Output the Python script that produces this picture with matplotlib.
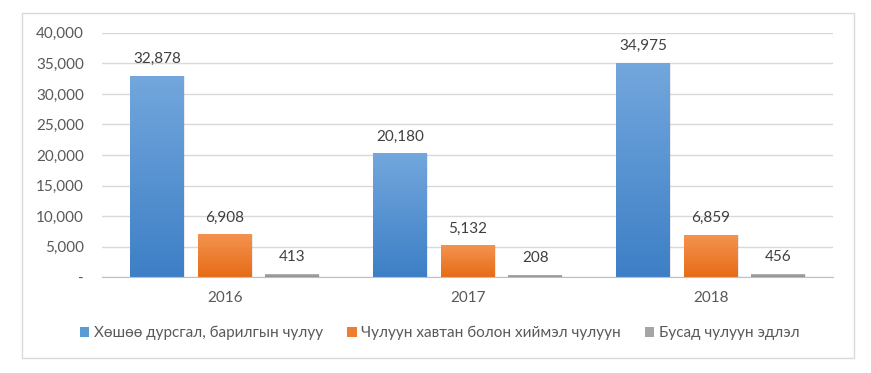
import numpy as np
import matplotlib
matplotlib.use('Agg')
import matplotlib.pyplot as plt
from matplotlib.colors import LinearSegmentedColormap
from matplotlib.patches import Rectangle

plt.rcParams['font.family'] = ['Lato', 'DejaVu Sans']

# data
years = ['2016', '2017', '2018']
series_names = ['Хөшөө дурсгал, барилгын чулуу',
                'Чулуун хавтан болон хиймэл чулуун',
                'Бусад чулуун эдлэл']
statues = [32878, 20180, 34975]
slabs = [6908, 5132, 6859]
other = [413, 208, 456]
yticks = [0, 5000, 10000, 15000, 20000, 25000, 30000, 35000, 40000]
ytick_labels = ['-', '5,000', '10,000', '15,000', '20,000', '25,000', '30,000', '35,000', '40,000']

# top colour, bottom colour for gradient
grads = [('#73a7dd', '#3d7fc6'), ('#f4934f', '#e66c17'), ('#b3b3b3', '#8c8c8c')]
legend_cols = ['#5b9bd5', '#ed7d31', '#a5a5a5']

fig = plt.figure(figsize=(8.71, 3.73), dpi=100)
ax = fig.add_axes([0.117, 0.257, 0.839, 0.655])

# outer chart border
fig.patches.append(Rectangle((22 / 871, 1 - 358 / 373), 832 / 871, 345 / 373,
                             transform=fig.transFigure, fill=False,
                             edgecolor='#d9d9d9', linewidth=1))

x = np.arange(len(years))
width = 0.222
offsets = [-0.278, 0, 0.278]
all_series = [statues, slabs, other]

for vals, off, (c_top, c_bot), lc, name in zip(all_series, offsets, grads, legend_cols, series_names):
    cmap = LinearSegmentedColormap.from_list('g', [c_bot, c_top])
    grad = np.linspace(0, 1, 256).reshape(-1, 1)
    bars = ax.bar(x + off, vals, width, color=lc, label=name, zorder=2)
    for b, v in zip(bars, vals):
        x0 = b.get_x()
        # soft shadow
        ax.add_patch(Rectangle((x0 + 0.004, 0), b.get_width(), v, color='#000000',
                               alpha=0.08, zorder=1.5, linewidth=0))
        ax.imshow(grad, cmap=cmap, aspect='auto', origin='lower',
                  extent=(x0, x0 + b.get_width(), 0, v), zorder=2.5)
        ax.text(b.get_x() + b.get_width() / 2, v + 1700, f'{v:,}',
                ha='center', va='bottom', fontsize=11, color='#404040')

ax.set_xlim(-0.506, 2.502)
ax.set_ylim(0, 40000)
ax.set_yticks(yticks)
ax.set_yticklabels(ytick_labels)
ax.set_xticks(x)
ax.set_xticklabels(years)
ax.tick_params(axis='both', length=0, labelsize=11, labelcolor='#595959')
ax.tick_params(axis='y', pad=13)
ax.tick_params(axis='x', pad=10)
ax.grid(axis='y', color='#d9d9d9', linewidth=1, zorder=0)
ax.set_axisbelow(True)
for s in ['top', 'right', 'left']:
    ax.spines[s].set_visible(False)
ax.spines['bottom'].set_color('#bfbfbf')
ax.spines['bottom'].set_zorder(3)

fig.legend(loc='center', bbox_to_anchor=(0.505, 1 - 333 / 373), ncol=3, frameon=False,
           fontsize=11, handlelength=0.6, handleheight=0.6, handletextpad=0.3,
           columnspacing=1.6, labelcolor='#595959')

fig.savefig('out.png', dpi=100)
